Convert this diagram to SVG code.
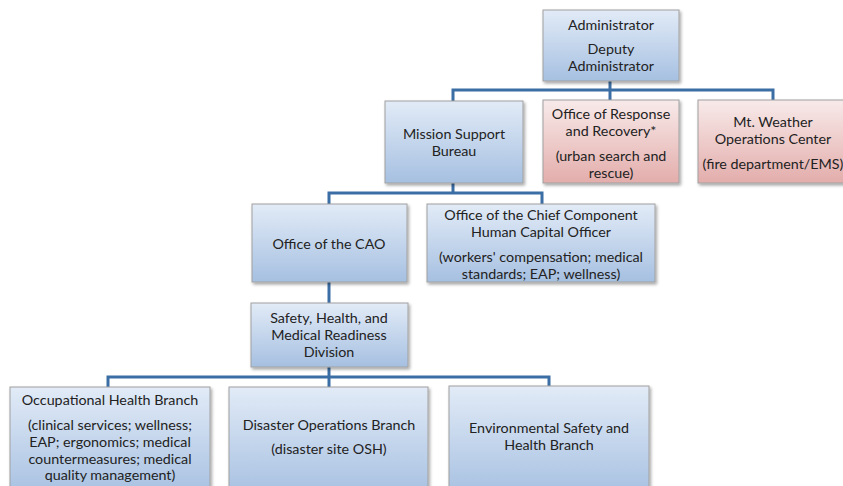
<svg xmlns="http://www.w3.org/2000/svg" width="843" height="486" viewBox="0 0 843 486">
  <defs>
    <linearGradient id="blueFill" x1="0" y1="0" x2="0" y2="1">
      <stop offset="0" stop-color="#e2ebf7"/>
      <stop offset="1" stop-color="#a6c0e1"/>
    </linearGradient>
    <linearGradient id="pinkFill" x1="0" y1="0" x2="0" y2="1">
      <stop offset="0" stop-color="#f8eaea"/>
      <stop offset="1" stop-color="#e3adab"/>
    </linearGradient>
    <filter id="shadow" x="-10%" y="-10%" width="120%" height="130%">
      <feDropShadow dx="1.5" dy="2" stdDeviation="1.5" flood-color="#000" flood-opacity="0.35"/>
    </filter>
  </defs>
  <style>
    .box { stroke: #a0a0a0; stroke-width: 1; filter: url(#shadow); }
    .blue { fill: url(#blueFill); }
    .pink { fill: url(#pinkFill); }
    .conn { fill: none; stroke: #3b6ea5; stroke-width: 3; stroke-linejoin: miter; }
    text { font-family: Lato, "Liberation Sans", sans-serif; font-size: 14.3px; fill: #222222; text-anchor: middle; dominant-baseline: central; }
  </style>

  <rect width="843" height="486" fill="#ffffff"/>

  <!-- reporting lines -->
  <g id="connectors">
    <path class="conn" d="M610 81 V90"/>
    <path class="conn" d="M453 101 V90 H773 V100"/>
    <path class="conn" d="M610 90 V100"/>
    <path class="conn" d="M329 204 V193 H542 V204"/>
    <path class="conn" d="M453 183 V193"/>
    <path class="conn" d="M329 282 V303"/>
    <path class="conn" d="M108 387 V377 H549 V386"/>
    <path class="conn" d="M329 367 V387"/>
  </g>

  <g id="administrator">
    <rect class="box blue" x="543" y="10" width="136" height="71"/>
    <text x="611" y="24">Administrator</text>
    <text x="611" y="48">Deputy</text>
    <text x="611" y="65">Administrator</text>
  </g>

  <g id="mission-support">
    <rect class="box blue" x="385" y="101" width="138" height="82"/>
    <text x="454" y="133">Mission Support</text>
    <text x="454" y="150">Bureau</text>
  </g>

  <g id="response-recovery">
    <rect class="box pink" x="543" y="100" width="136" height="83"/>
    <text x="611" y="113">Office of Response</text>
    <text x="611" y="130">and Recovery*</text>
    <text x="611" y="155">(urban search and</text>
    <text x="611" y="172">rescue)</text>
  </g>

  <g id="mt-weather">
    <rect class="box pink" x="698" y="100" width="150" height="83"/>
    <text x="773" y="121">Mt. Weather</text>
    <text x="773" y="138">Operations Center</text>
    <text x="773" y="163">(fire department/EMS)</text>
  </g>

  <g id="office-cao">
    <rect class="box blue" x="252" y="204" width="155" height="78"/>
    <text x="329" y="243">Office of the CAO</text>
  </g>

  <g id="chief-hco">
    <rect class="box blue" x="427" y="204" width="228" height="78"/>
    <text x="541" y="214">Office of the Chief Component</text>
    <text x="541" y="231">Human Capital Officer</text>
    <text x="541" y="256">(workers' compensation; medical</text>
    <text x="541" y="273">standards; EAP; wellness)</text>
  </g>

  <g id="safety-division">
    <rect class="box blue" x="251" y="303" width="157" height="64"/>
    <text x="329" y="317">Safety, Health, and</text>
    <text x="329" y="334">Medical Readiness</text>
    <text x="329" y="351">Division</text>
  </g>

  <g id="occupational-health">
    <rect class="box blue" x="10" y="387" width="200" height="110"/>
    <text x="110" y="399">Occupational Health Branch</text>
    <text x="110" y="424">(clinical services; wellness;</text>
    <text x="110" y="441">EAP; ergonomics; medical</text>
    <text x="110" y="458">countermeasures; medical</text>
    <text x="110" y="474">quality management)</text>
  </g>

  <g id="disaster-operations">
    <rect class="box blue" x="229" y="387" width="199" height="110"/>
    <text x="329" y="424">Disaster Operations Branch</text>
    <text x="329" y="448">(disaster site OSH)</text>
  </g>

  <g id="environmental-safety">
    <rect class="box blue" x="449" y="386" width="200" height="111"/>
    <text x="549" y="427">Environmental Safety and</text>
    <text x="549" y="444">Health Branch</text>
  </g>
</svg>
